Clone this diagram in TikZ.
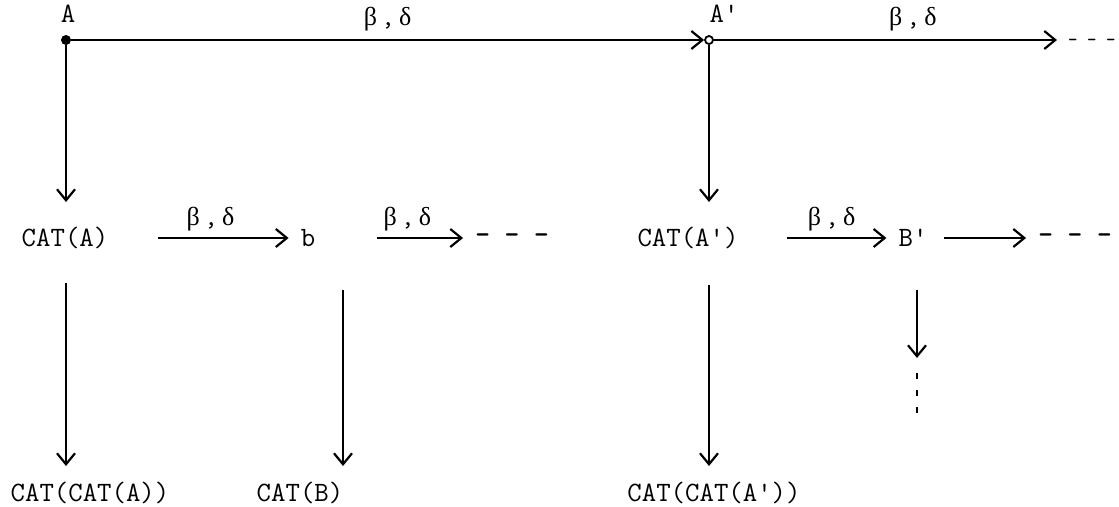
\documentclass[tikz,border=0pt]{standalone}
\usepackage{fontspec}
\newfontfamily\grk{Liberation Serif}
\newcommand{\bd}{{\grk β}\,,\,{\grk δ}}
\usetikzlibrary{arrows.meta}
\begin{document}
\begin{tikzpicture}[x=1pt,y=-1pt,
  every node/.style={font=\ttfamily\fontsize{28}{32}\selectfont, inner sep=0pt},
  lbl/.style={font=\ttfamily\fontsize{26}{30}\selectfont},
  dsh/.style={font=\ttfamily\bfseries\fontsize{28}{32}\selectfont},
  arr/.style={line width=2.2pt, -{Straight Barb[length=11pt,width=18pt,line width=2.2pt]}},
  fdot/.style={circle, fill=black, minimum size=10pt, inner sep=0pt},
  odot/.style={circle, draw=black, line width=1.8pt, minimum size=8pt, inner sep=0pt}]
\useasboundingbox (0,0) rectangle (1119,506);
% top row
\node[fdot] (A) at (66,40) {};
\node (Alab) at (68,14) {A};
\node[odot] (Ap) at (709,40) {};
\node (Aplab) at (724,14) {A'};
\node[dsh, font=\ttfamily\bfseries\fontsize{18}{22}\selectfont, anchor=west] (d0) at (1068,42) {- - -};
\coordinate (e0) at (1057,40);
\draw[arr] (A) -- node[lbl, above=8pt] {\bd} (Ap);
\draw[arr] (Ap) -- node[lbl, above=8pt, pos=0.58] {\bd} (e0);
% middle row
\node (cata) at (65,238) {CAT(A)};
\node (b) at (308,238) {b};
\node[dsh] (d1) at (512,239) {- - -};
\node (catap) at (688,238) {CAT(A')};
\node (bp) at (913,238) {B'};
\node[dsh] (d2) at (1075,239) {- - -};
\draw[arr] (A) -- (66,202) coordinate (ea);
\draw[arr] (Ap) -- (709,202) coordinate (eap);
\draw[arr] ([xshift=50pt]cata.east) -- node[lbl, above=6pt, pos=0.4] {\bd} ([xshift=-12pt]b.west);
\draw[arr] ([xshift=62pt]b.east) -- node[lbl, above=6pt, pos=0.35] {\bd} ([xshift=-12pt]b.east -| d1.west);
\draw[arr] ([xshift=48pt]catap.east) -- node[lbl, above=6pt, pos=0.45] {\bd} ([xshift=-12pt]bp.west);
\draw[arr] ([xshift=16pt]bp.east) -- ([xshift=-12pt]bp.east -| d2.west);
% bottom row
\node (ccata) at (90,493) {CAT(CAT(A))};
\node (catb) at (300,493) {CAT(B)};
\node (ccatap) at (714,493) {CAT(CAT(A'))};
\draw[arr] (66,283) -- (66,466);
\draw[arr] (343,290) -- (343,466);
\draw[arr] (709,285) -- (709,466);
\draw[arr] (917,290) -- (917,358);
\draw[line width=2.4pt, dash pattern=on 6pt off 11pt] (917,373) -- (917,418);
\end{tikzpicture}
\end{document}
